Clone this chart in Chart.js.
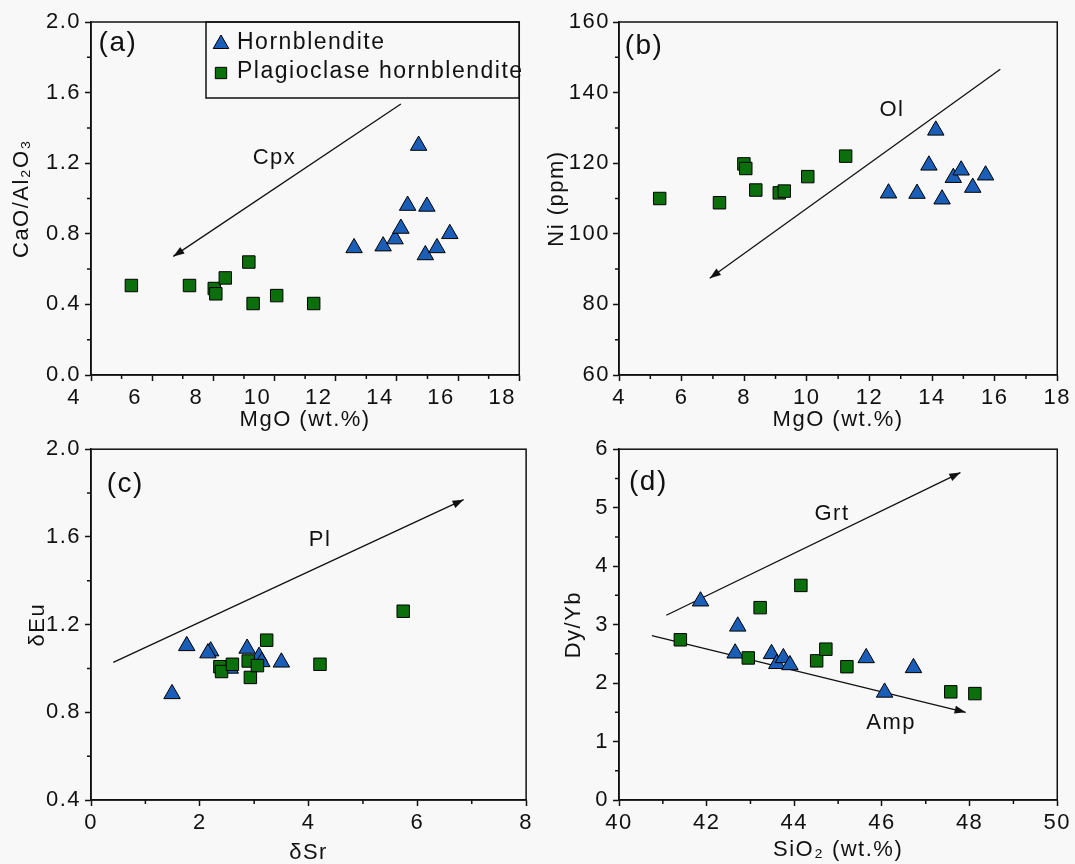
<!DOCTYPE html>
<html>
<head>
<meta charset="utf-8">
<script src="https://cdn.jsdelivr.net/npm/chart.js@4.4.0/dist/chart.umd.min.js"></script>
<style>
  html, body { margin: 0; padding: 0; background: #f8f8f8; }
  #wrap { position: relative; width: 1075px; height: 864px; }
  canvas { position: absolute; }
</style>
</head>
<body>
<div id="wrap">
  <canvas id="panelA" width="537" height="432" style="left:0;top:0;width:537px;height:432px"></canvas>
  <canvas id="panelB" width="538" height="432" style="left:537px;top:0;width:538px;height:432px"></canvas>
  <canvas id="panelC" width="537" height="432" style="left:0;top:432px;width:537px;height:432px"></canvas>
  <canvas id="panelD" width="538" height="432" style="left:537px;top:432px;width:538px;height:432px"></canvas>
</div>
<script>
const FONT = "'Liberation Sans', Arial, sans-serif";
const INK = '#111111';
const BLUE = '#1a5eb8';
const GREEN = '#0b700b';

// series names
const HBL = 'Hornblendite';
const PLG = 'Plagioclase hornblendite';

// (a) CaO/Al2O3 vs MgO
const hblMgO_a = [12.60, 13.55, 13.94, 14.13, 14.35, 14.71, 14.98, 14.93, 15.31, 15.73];
const hblCaoAl = [0.72, 0.73, 0.77, 0.83, 0.96, 1.30, 0.955, 0.68, 0.72, 0.80];
const plgMgO_a = [5.32, 7.22, 8.03, 8.08, 8.39, 9.16, 9.30, 10.07, 11.28];
const plgCaoAl = [0.507, 0.507, 0.49, 0.46, 0.55, 0.64, 0.405, 0.45, 0.405];
const cpxArrowX = [14.13, 6.69];
const cpxArrowY = [1.535, 0.672];

// (b) Ni vs MgO
const hblMgO_b = [12.61, 13.52, 13.90, 14.12, 14.32, 14.68, 14.93, 15.30, 15.71];
const hblNi = [111.5, 111.4, 119.4, 129.3, 109.8, 115.9, 118.0, 113.1, 116.6];
const plgMgO_b = [5.30, 7.21, 7.99, 8.05, 8.37, 9.12, 9.28, 10.03, 11.24];
const plgNi = [110.0, 108.8, 119.8, 118.5, 112.4, 111.6, 112.1, 116.2, 122.0];
const olArrowX = [16.18, 6.90];
const olArrowY = [146.6, 87.4];

// (c) δEu vs δSr
const hblSr = [1.49, 1.76, 2.20, 2.15, 2.56, 2.87, 3.09, 3.14, 3.50];
const hblEu = [0.884, 1.103, 1.079, 1.07, 1.0, 1.091, 1.054, 1.03, 1.028];
const plgSr = [2.37, 2.40, 2.60, 2.89, 2.93, 3.06, 3.23, 4.21, 5.74];
const plgEu = [1.008, 0.986, 1.019, 1.034, 0.959, 1.013, 1.129, 1.019, 1.261];
const plArrowX = [0.41, 6.85];
const plArrowY = [1.028, 1.77];

// (d) Dy/Yb vs SiO2
const hblSi = [41.86, 42.71, 42.65, 43.48, 43.60, 43.75, 43.90, 45.64, 46.06, 46.72];
const hblDyYb = [3.40, 2.97, 2.51, 2.50, 2.33, 2.43, 2.31, 2.43, 1.84, 2.26];
const plgSi = [41.40, 42.95, 43.22, 44.15, 44.51, 44.72, 45.20, 47.57, 48.12];
const plgDyYb = [2.74, 2.43, 3.29, 3.67, 2.38, 2.58, 2.28, 1.85, 1.82];
const grtArrowX = [41.08, 47.79];
const grtArrowY = [3.16, 5.60];
const ampArrowX = [40.75, 47.91];
const ampArrowY = [2.81, 1.50];

function pts(xs, ys) {
  return xs.map((x, i) => ({ x, y: ys[i] }));
}

function markerSet(label, xs, ys) {
  const tri = label === HBL;
  return {
    label,
    data: pts(xs, ys),
    pointStyle: tri ? 'triangle' : 'rect',
    pointRadius: tri ? 9.5 : 8.8,
    pointHoverRadius: tri ? 9.5 : 8.8,
    backgroundColor: tri ? BLUE : GREEN,
    borderColor: '#000',
    borderWidth: 1,
    showLine: false
  };
}

function arrowSet(xs, ys) {
  return {
    label: '',
    data: pts(xs, ys),
    showLine: true,
    pointRadius: 0,
    borderColor: INK,
    borderWidth: 1.3,
    arrow: true
  };
}

// same geometry as Chart.js point styles
function drawMarker(ctx, style, x, y, r) {
  ctx.beginPath();
  if (style === 'triangle') {
    ctx.moveTo(x, y - r);
    ctx.lineTo(x + r * 0.866, y + r / 2);
    ctx.lineTo(x - r * 0.866, y + r / 2);
    ctx.closePath();
  } else {
    const s = r * Math.SQRT1_2;
    ctx.rect(x - s, y - s, 2 * s, 2 * s);
  }
  ctx.fill();
  ctx.stroke();
}

const decor = {
  id: 'decor',
  beforeUpdate(chart) { chart.ctx.letterSpacing = '1.5px'; },
  beforeDraw(chart) { chart.ctx.letterSpacing = '1.5px'; },
  afterDraw(chart, args, opts) {
    const { ctx, chartArea: ca } = chart;
    const xs = chart.scales.x, ys = chart.scales.y;
    ctx.save();
    ctx.strokeStyle = INK;
    ctx.lineWidth = 1.5;
    ctx.strokeRect(ca.left, ca.top, ca.right - ca.left, ca.bottom - ca.top);

    // minor ticks, half a major step
    ctx.beginPath();
    const xStep = xs.options.ticks.stepSize, yStep = ys.options.ticks.stepSize;
    for (let v = xs.min + xStep / 2; v < xs.max; v += xStep) {
      const p = xs.getPixelForValue(v);
      ctx.moveTo(p, ca.bottom); ctx.lineTo(p, ca.bottom + 4);
    }
    for (let v = ys.min + yStep / 2; v < ys.max; v += yStep) {
      const p = ys.getPixelForValue(v);
      ctx.moveTo(ca.left, p); ctx.lineTo(ca.left - 4, p);
    }
    ctx.stroke();

    // arrow heads at the last point of each arrow line
    ctx.fillStyle = INK;
    chart.data.datasets.forEach((ds, i) => {
      if (!ds.arrow) return;
      const els = chart.getDatasetMeta(i).data;
      const a = els[els.length - 2], b = els[els.length - 1];
      const ang = Math.atan2(b.y - a.y, b.x - a.x);
      ctx.save();
      ctx.translate(b.x, b.y);
      ctx.rotate(ang);
      ctx.beginPath();
      ctx.moveTo(0, 0);
      ctx.lineTo(-11, -4);
      ctx.lineTo(-11, 4);
      ctx.closePath();
      ctx.fill();
      ctx.restore();
    });

    // text labels
    ctx.textAlign = 'center';
    ctx.textBaseline = 'middle';
    (opts.texts || []).forEach(t => {
      ctx.font = (t.size || 22) + 'px ' + FONT;
      ctx.fillText(t.text, xs.getPixelForValue(t.x), ys.getPixelForValue(t.y));
    });

    // boxed legend
    if (opts.legend) {
      const lg = opts.legend;
      const left = ca.left + lg.dx, top = ca.top;
      ctx.lineWidth = 1.5;
      ctx.strokeRect(left, top, ca.right - left, lg.h);
      ctx.textAlign = 'left';
      ctx.font = '23px ' + FONT;
      lg.order.forEach((name, k) => {
        const ds = chart.data.datasets.find(d => d.label === name);
        const cy = top + 21 + k * 29;
        ctx.fillStyle = ds.backgroundColor;
        ctx.strokeStyle = '#000';
        ctx.lineWidth = 1;
        drawMarker(ctx, ds.pointStyle, left + 15, cy + 1, ds.pointStyle === 'triangle' ? 9 : 8);
        ctx.fillStyle = INK;
        ctx.fillText(name, left + 31, cy);
      });
    }
    ctx.restore();
  }
};

function axisX(min, max, step, title, h, titlePad, labelOffset) {
  return {
    type: 'linear', min, max,
    afterFit: s => { s.height = h; },
    ticks: { stepSize: step, autoSkip: false, maxRotation: 0, padding: 4, labelOffset: labelOffset || 0,
             color: INK, font: { family: FONT, size: 22 } },
    grid: { drawOnChartArea: false, drawTicks: true, tickLength: 6, tickColor: INK, tickWidth: 1.5 },
    border: { color: INK, width: 1.5 },
    title: { display: true, text: title, color: INK, font: { family: FONT, size: 22, lineHeight: 1 },
             padding: { top: 0, bottom: titlePad } }
  };
}

function axisY(min, max, step, title, w, titlePad, fmt, tickPad) {
  return {
    type: 'linear', min, max,
    afterFit: s => { s.width = w; },
    ticks: { stepSize: step, autoSkip: false, padding: tickPad || 4, color: INK, font: { family: FONT, size: 22 },
             callback: fmt },
    grid: { drawOnChartArea: false, drawTicks: true, tickLength: 6, tickColor: INK, tickWidth: 1.5 },
    border: { color: INK, width: 1.5 },
    title: { display: true, text: title, color: INK, font: { family: FONT, size: 22, lineHeight: 1 },
             padding: { top: titlePad, bottom: 0 } }
  };
}

function makePanel(id, datasets, x, y, padding, decorOpts) {
  return new Chart(document.getElementById(id), {
    type: 'scatter',
    data: { datasets },
    options: {
      responsive: false,
      animation: false,
      events: [],
      layout: { padding },
      plugins: { legend: { display: false }, tooltip: { enabled: false }, decor: decorOpts },
      scales: { x, y }
    },
    plugins: [decor]
  });
}

const oneDec = v => v.toFixed(1);
const plain = v => String(v);

makePanel('panelA',
  [markerSet(PLG, plgMgO_a, plgCaoAl), markerSet(HBL, hblMgO_a, hblCaoAl), arrowSet(cpxArrowX, cpxArrowY)],
  axisX(4, 18, 2, 'MgO (wt.%)', 57, 1, -17),
  axisY(0, 2, 0.4, 'CaO/Al₂O₃', 91, 11, oneDec),
  { top: 22, right: 6, left: 0, bottom: 0 },
  { texts: [{ text: '(a)', x: 4.88, y: 1.877, size: 28 }, { text: 'Cpx', x: 10.0, y: 1.228 }],
    legend: { dx: 115, h: 76, order: [HBL, PLG] } });

makePanel('panelB',
  [markerSet(PLG, plgMgO_b, plgNi), markerSet(HBL, hblMgO_b, hblNi), arrowSet(olArrowX, olArrowY)],
  axisX(4, 18, 2, 'MgO (wt.%)', 57, 1, 0),
  axisY(60, 160, 20, 'Ni (ppm)', 82, 9, plain, 3),
  { top: 22, right: 16, left: 0, bottom: 0 },
  { texts: [{ text: '(b)', x: 4.8, y: 153, size: 28 }, { text: 'Ol', x: 12.72, y: 135.1 }] });

makePanel('panelC',
  [markerSet(PLG, plgSr, plgEu), markerSet(HBL, hblSr, hblEu), arrowSet(plArrowX, plArrowY)],
  axisX(0, 8, 2, 'δSr', 64, 0, 0),
  axisY(0.4, 2.0, 0.4, 'δEu', 91, 27, oneDec),
  { top: 14, right: 6, left: 0, bottom: 0 },
  { texts: [{ text: '(c)', x: 0.63, y: 1.84, size: 28 }, { text: 'Pl', x: 4.21, y: 1.587 }] });

makePanel('panelD',
  [markerSet(PLG, plgSi, plgDyYb), markerSet(HBL, hblSi, hblDyYb), arrowSet(grtArrowX, grtArrowY), arrowSet(ampArrowX, ampArrowY)],
  axisX(40, 50, 2, 'SiO₂ (wt.%)', 64, 3, 0),
  axisY(0, 6, 1, 'Dy/Yb', 82, 26, plain),
  { top: 14, right: 15, left: 0, bottom: 0 },
  { texts: [{ text: '(d)', x: 40.67, y: 5.43, size: 28 }, { text: 'Grt', x: 44.86, y: 4.90 }, { text: 'Amp', x: 46.21, y: 1.32 }] });
</script>
</body>
</html>
